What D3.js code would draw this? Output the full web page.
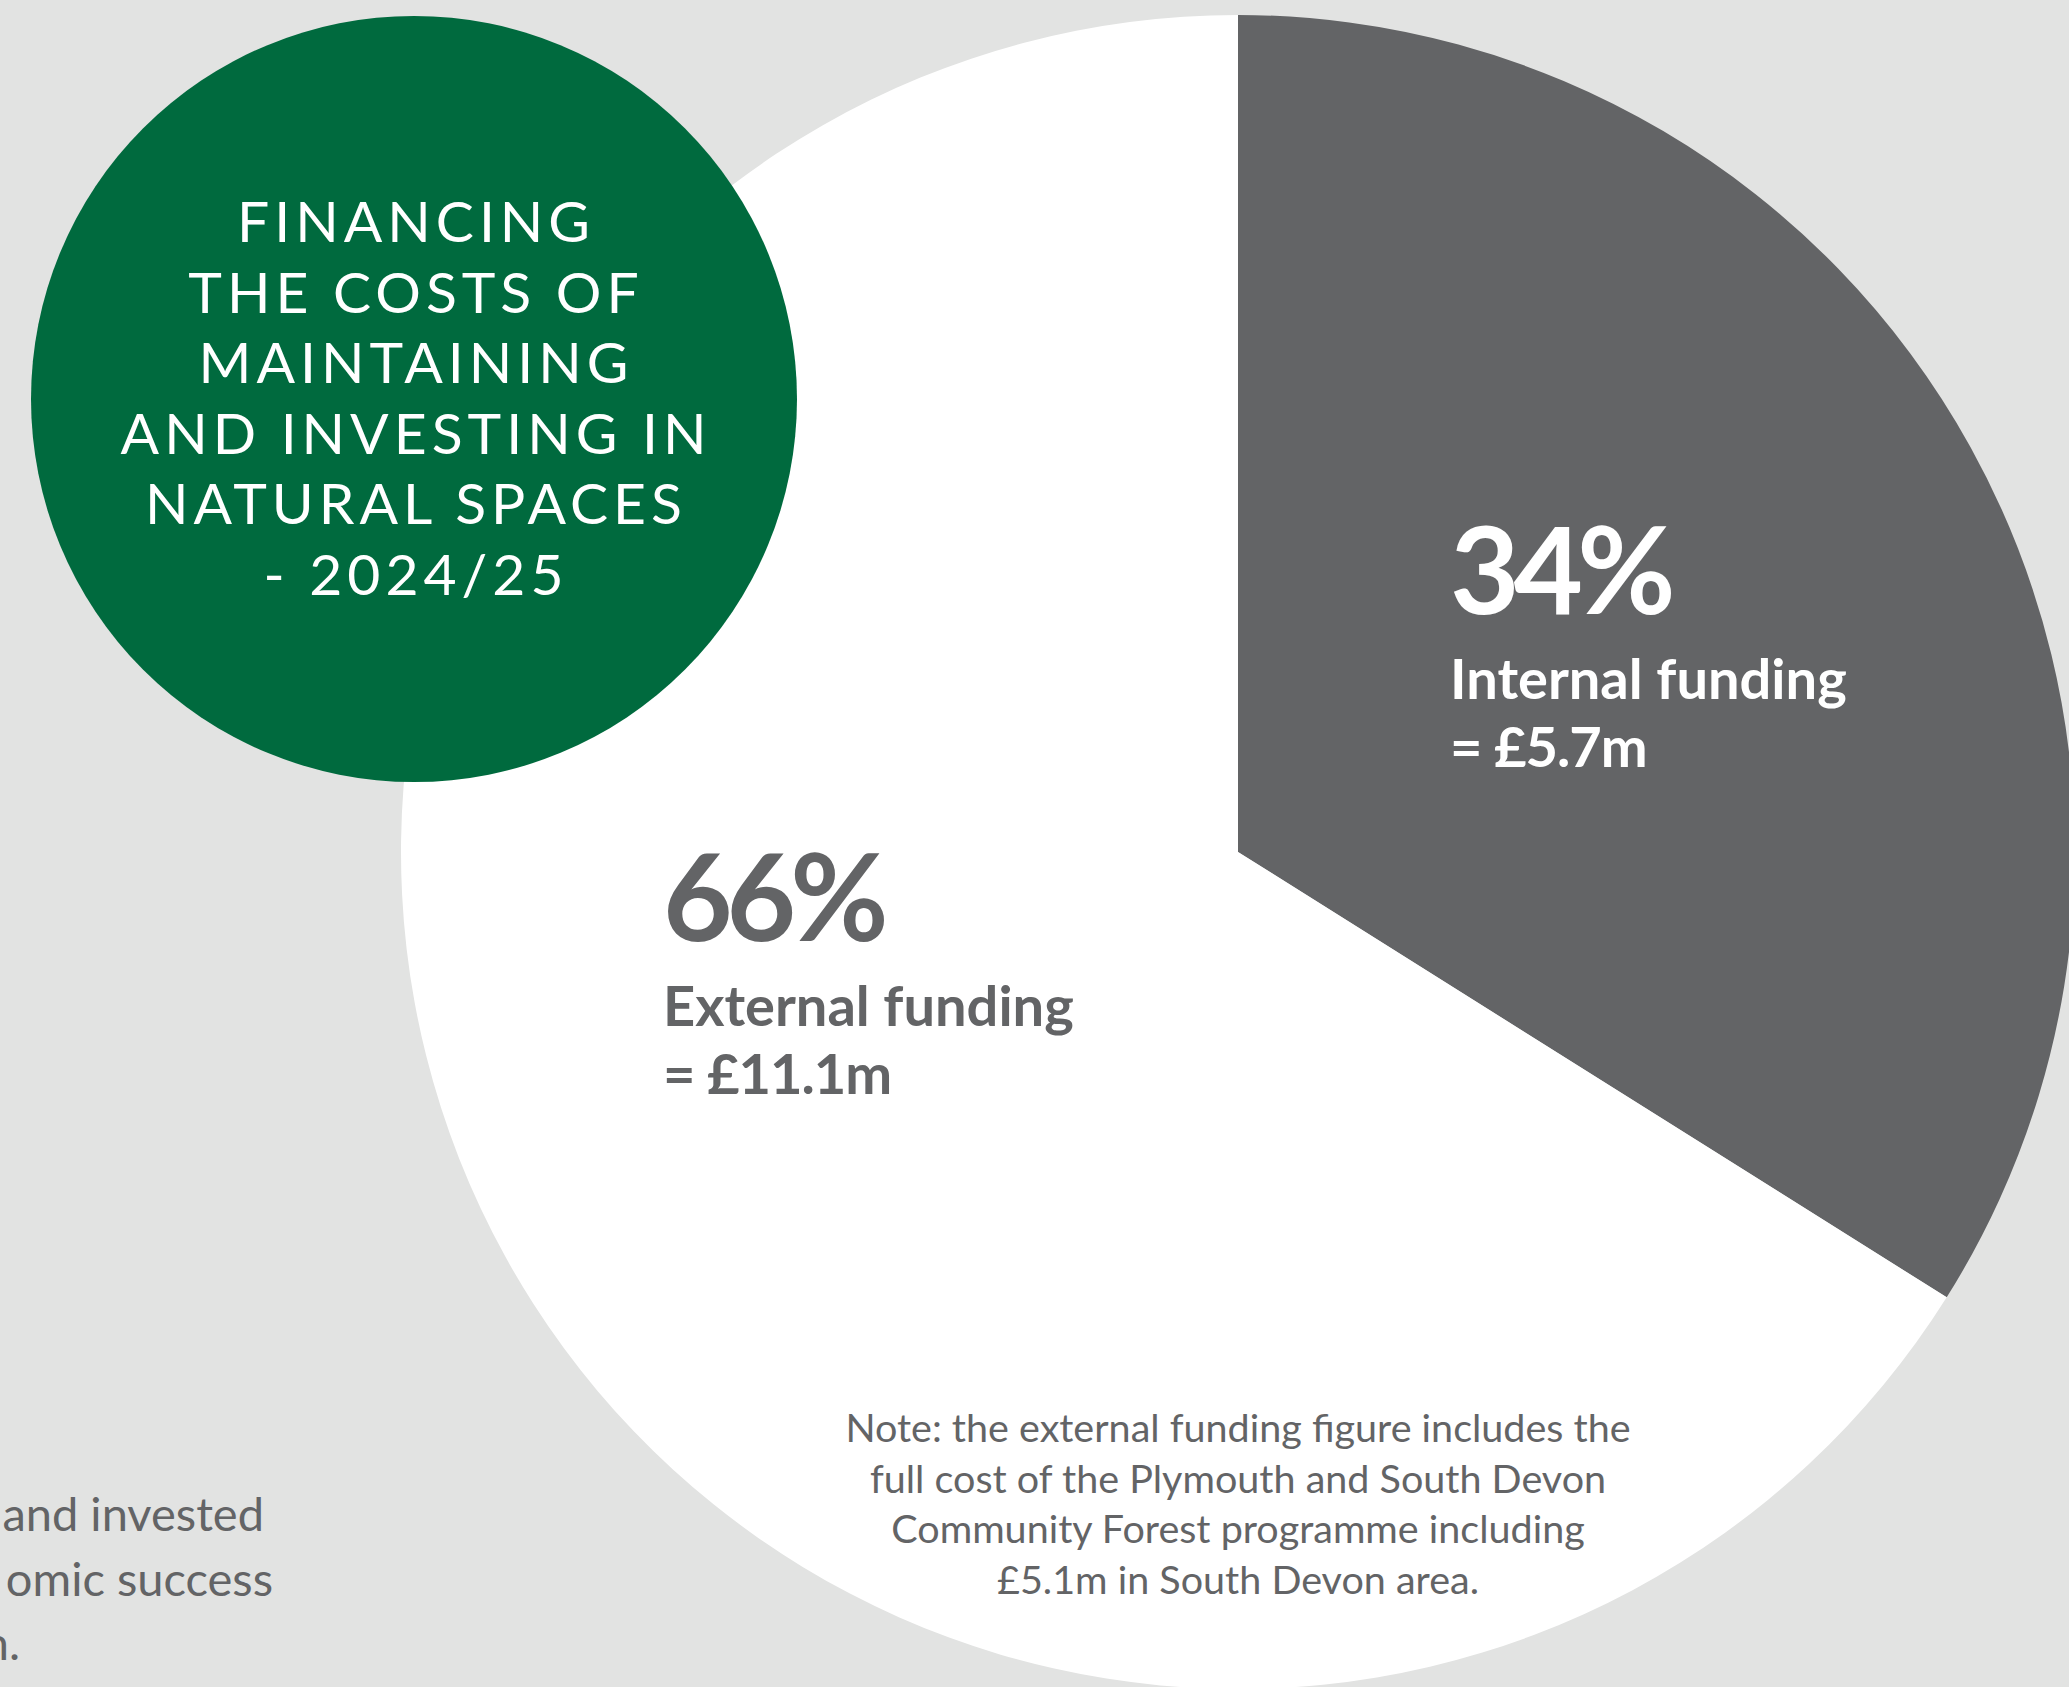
<!DOCTYPE html>
<html>
<head>
<meta charset="utf-8">
<script src="https://cdn.jsdelivr.net/npm/d3@7"></script>
<style>
  html, body { margin: 0; padding: 0; background: #e2e3e2; }
  svg { display: block; }
</style>
</head>
<body>
<div id="chart"></div>
<script>
// data
var categories = ["Internal funding", "External funding"]
var amounts = [5.7, 11.1]          // £m
var percents = [34, 66]
var amountLabels = ["£5.7m", "£11.1m"]
var titleLines = ["FINANCING", "THE COSTS OF", "MAINTAINING", "AND INVESTING IN", "NATURAL SPACES", "- 2024/25"]
var noteLines = [
    "Note: the external funding figure includes the",
    "full cost of the Plymouth and South Devon",
    "Community Forest programme including",
    "£5.1m in South Devon area."
]
var sideLines = ["and invested", "omic success", "n."]

var width = 2069,
    height = 1687

var grey = "#636466",
    green = "#006a3e"

var svg = d3.select("#chart")
    .append("svg")
    .attr("width", width)
    .attr("height", height)
    .style("font-family", "Lato, 'Open Sans', sans-serif")

svg.append("rect")
    .attr("width", width)
    .attr("height", height)
    .attr("fill", "#e2e3e2")

// side text cut by the left edge
svg.append("g")
    .selectAll("text")
    .data(sideLines)
    .enter()
    .append("text")
    .attr("x", function(d, i) { return [264, 273, 20][i] })
    .attr("y", function(d, i) { return 1531 + i * 64.5 })
    .attr("text-anchor", "end")
    .attr("font-size", 47)
    .attr("fill", grey)
    .text(function(d) { return d })

// pie
var cx = 1238, cy = 852, radius = 837

var pie = d3.pie()
    .sort(null)
    .value(function(d) { return d })

var arc = d3.arc()
    .innerRadius(0)
    .outerRadius(radius)

var pieG = svg.append("g")
    .attr("transform", "translate(" + cx + "," + cy + ")")

pieG.selectAll("path")
    .data(pie(amounts))
    .enter()
    .append("path")
    .attr("d", arc)
    .attr("fill", function(d, i) { return i == 0 ? grey : "#ffffff" })

// slice labels
var labelPos = [
    { x: 212, y: -238, color: "#ffffff" },
    { x: -575, y: 89, color: grey }
]

var labels = pieG.selectAll("g.label")
    .data(categories)
    .enter()
    .append("g")
    .attr("class", "label")
    .attr("transform", function(d, i) { return "translate(" + labelPos[i].x + "," + labelPos[i].y + ")" })
    .attr("fill", function(d, i) { return labelPos[i].color })
    .attr("font-weight", 700)

labels.append("text")
    .attr("font-size", 120)
    .attr("letter-spacing", -6)
    .text(function(d, i) { return percents[i] + "%" })

labels.append("text")
    .attr("y", 85)
    .attr("font-size", 56)
    .text(function(d) { return d })

labels.append("text")
    .attr("y", 153)
    .attr("font-size", 56)
    .attr("letter-spacing", -1)
    .text(function(d, i) { return "= " + amountLabels[i] })

// note
svg.append("g")
    .selectAll("text")
    .data(noteLines)
    .enter()
    .append("text")
    .attr("x", cx)
    .attr("y", function(d, i) { return 1442 + i * 50.7 })
    .attr("text-anchor", "middle")
    .attr("font-size", 39.5)
    .attr("fill", grey)
    .text(function(d) { return d })

// green title circle
svg.append("circle")
    .attr("cx", 414)
    .attr("cy", 399)
    .attr("r", 383)
    .attr("fill", green)

svg.append("g")
    .selectAll("text")
    .data(titleLines)
    .enter()
    .append("text")
    .attr("x", 416)
    .attr("y", function(d, i) { return 242 + i * 70.6 })
    .attr("text-anchor", "middle")
    .attr("font-size", 57)
    .attr("letter-spacing", 5)
    .attr("fill", "#ffffff")
    .text(function(d) { return d })
</script>
</body>
</html>
